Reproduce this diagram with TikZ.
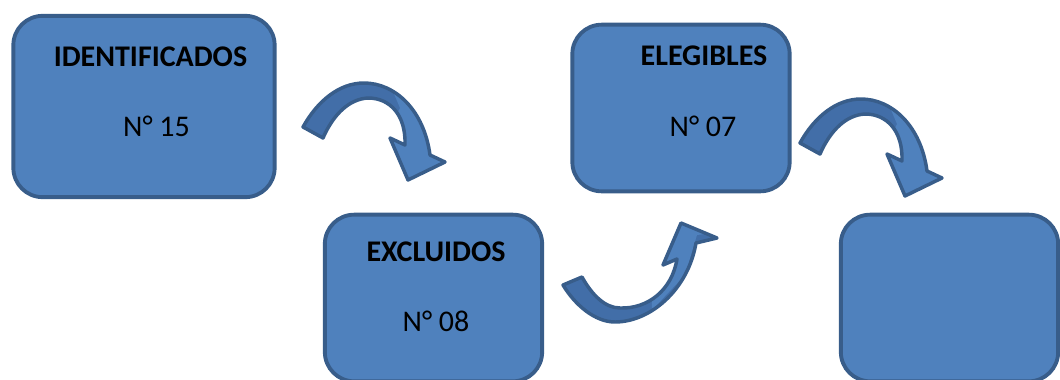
\documentclass[tikz,border=0pt]{standalone}
\usepackage{fontspec}
\setmainfont{Carlito}
\usepackage{tikz}
\usetikzlibrary{arrows.meta, positioning}

\definecolor{boxfill}{HTML}{4F81BD}
\definecolor{boxline}{HTML}{385D8A}
\definecolor{arrowdark}{HTML}{426EA8}

% curved block arrows (pixel units)
\newcommand{\bendDown}{(303,127) .. controls (318,100) and (340,83) .. (364,83)
  .. controls (395,83) and (424,110) .. (430,155) -- (445,162) -- (408,180)
  -- (390,138) -- (405,145) .. controls (406,115) and (390,98) .. (368,98)
  .. controls (350,99) and (334,113) .. (323,138) -- cycle}
\newcommand{\bendUp}{(563,285) .. controls (575,305) and (595,322) .. (615,322)
  .. controls (650,322) and (688,290) .. (696,243) -- (717,238) -- (681,223)
  -- (663,265) -- (677,259) .. controls (672,290) and (648,309) .. (620,308)
  .. controls (605,308) and (592,295) .. (582,277) -- cycle}

\begin{document}
\begin{tikzpicture}[
            x=0.75pt, y=-0.75pt,
            box/.style={draw=boxline, fill=boxfill, line width=2.9pt, rounded corners=22pt, rectangle},
            head/.style={inner sep=0pt, font=\fontsize{22.5}{27}\selectfont\bfseries},
            count/.style={inner sep=0pt, font=\fontsize{22.5}{27}\selectfont},
            bendline/.style={draw=boxline, line width=2.6pt, line join=round},
            >=Stealth
        ]
            \useasboundingbox (0,0) rectangle (1060,379);
            \clip (0,0) rectangle (1060,379);

            % boxes
            \node[box, minimum width=196pt, minimum height=136pt] (ident) at (144,106.5) {};
            \node[box, minimum width=163pt, minimum height=125pt] (excl) at (433.5,298) {};
            \node[box, minimum width=163pt, minimum height=125pt] (eleg) at (681,108) {};
            \node[box, minimum width=163pt, minimum height=125pt] (final) at (949.5,298) {};

            % labels
            \node[head] (identT) at (150.5,57) {IDENTIFICADOS};
            \node[count] (identN) at (156.5,126.5) {N° 15};
            \node[head] (exclT) at (436,252) {EXCLUIDOS};
            \node[count] (exclN) at (436,321.5) {N° 08};
            \node[head] (elegT) at (704,55.5) {ELEGIBLES};
            \node[count] (elegN) at (703,126) {N° 07};

            % arrow 1
            \fill[arrowdark] \bendDown;
            \begin{scope}
                \clip (384,70) -- (470,70) -- (470,200) -- (375,200) -- (385,140) -- (400,108) -- cycle;
                \fill[boxfill] \bendDown;
            \end{scope}
            \path[bendline] \bendDown;

            % arrow 2
            \fill[arrowdark] \bendUp;
            \begin{scope}
                \clip (652,310) -- (685,275) -- (697,235) -- (740,230) -- (740,200) -- (650,200) -- cycle;
                \fill[boxfill] \bendUp;
            \end{scope}
            \path[bendline] \bendUp;

            % arrow 3
            \begin{scope}[shift={(497,16)}]
                \fill[arrowdark] \bendDown;
                \begin{scope}
                    \clip (384,70) -- (470,70) -- (470,200) -- (375,200) -- (385,140) -- (400,108) -- cycle;
                    \fill[boxfill] \bendDown;
                \end{scope}
                \path[bendline] \bendDown;
            \end{scope}
        \end{tikzpicture}
\end{document}
